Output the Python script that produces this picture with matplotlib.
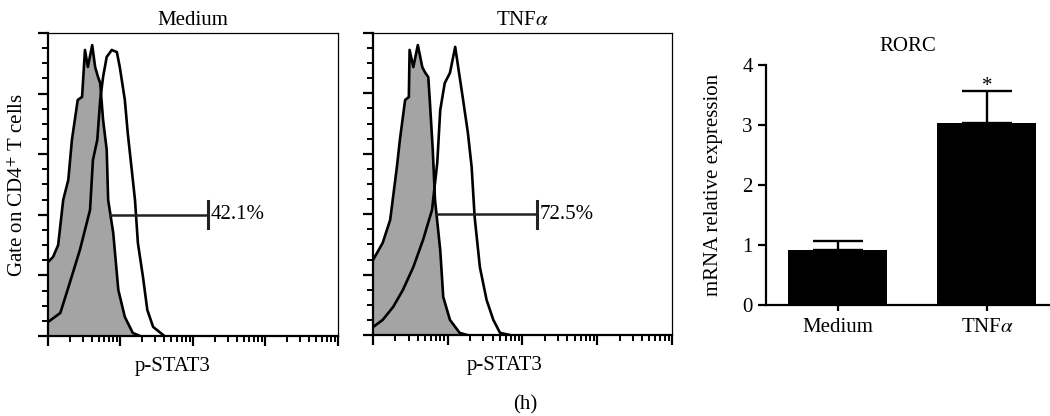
import matplotlib
matplotlib.use('Agg')
import matplotlib.pyplot as plt
from matplotlib.ticker import NullFormatter
import numpy as np

plt.rcParams['font.family'] = ['Liberation Serif', 'DejaVu Serif']
plt.rcParams['mathtext.fontset'] = 'stix'

# flow histograms: log10(p-STAT3 intensity) and % of max count
med_iso_lx = [0.0, 0.07, 0.14, 0.21, 0.28, 0.33, 0.41, 0.47, 0.51, 0.55, 0.61, 0.65, 0.69, 0.72,
              0.76, 0.81, 0.83, 0.90, 0.97, 1.06, 1.17, 1.27]
med_iso_y = [24.4, 26.1, 30.0, 44.9, 51.5, 64.7, 77.9, 78.9, 94.4, 88.8, 96.0, 88.8, 85.5, 83.5,
             71.3, 61.4, 44.9, 34.0, 15.2, 6.3, 1.0, 0.0]
med_stat_lx = [0.0, 0.17, 0.30, 0.44, 0.58, 0.62, 0.68, 0.72, 0.76, 0.81, 0.88, 0.95, 0.99, 1.06,
               1.10, 1.16, 1.20, 1.24, 1.31, 1.37, 1.45, 1.59]
med_stat_y = [4.6, 7.6, 17.5, 28.4, 41.6, 58.1, 64.7, 77.9, 85.5, 92.1, 94.4, 93.7, 88.8, 77.9,
              67.0, 53.8, 44.9, 30.7, 19.5, 8.6, 3.0, 0.3]

tnf_iso_lx = [0.0, 0.13, 0.23, 0.32, 0.36, 0.43, 0.48, 0.49, 0.54, 0.60, 0.66, 0.70, 0.74, 0.76,
              0.80, 0.83, 0.90, 0.94, 1.03, 1.16, 1.26]
tnf_iso_y = [24.8, 30.5, 38.1, 55.6, 64.6, 77.8, 78.8, 94.4, 88.7, 96.0, 88.7, 86.8, 85.4, 77.8,
             61.3, 44.7, 28.1, 12.6, 5.0, 0.7, 0.0]
tnf_stat_lx = [0.0, 0.13, 0.27, 0.40, 0.54, 0.67, 0.79, 0.86, 0.90, 0.96, 1.03, 1.10, 1.14, 1.20,
               1.27, 1.32, 1.36, 1.43, 1.52, 1.61, 1.70, 1.83]
tnf_stat_y = [2.6, 5.0, 9.3, 14.9, 22.5, 31.5, 41.4, 57.0, 74.5, 83.4, 86.8, 95.4, 88.7, 78.8,
              66.9, 55.6, 39.1, 22.5, 11.6, 5.0, 0.7, 0.0]

panel_titles = ['Medium', 'TNF$\\alpha$']
gate_pct = ['42.1%', '72.5%']
gate_lo = [7.2, 7.2]
gate_hi = [161, 156]
gate_level = 40

# qPCR bars
groups = ['Medium', 'TNF$\\alpha$']
rorc_mean = [0.92, 3.04]
rorc_err = [0.15, 0.52]

fs = 15

fig = plt.figure(figsize=(10.5, 4.16), dpi=100)
ax1 = fig.add_axes([0.0457, 0.1923, 0.2762, 0.7284])
ax2 = fig.add_axes([0.3552, 0.1947, 0.2848, 0.726])
ax3 = fig.add_axes([0.7295, 0.2668, 0.2705, 0.5769])

hists = [(med_iso_lx, med_iso_y, med_stat_lx, med_stat_y),
         (tnf_iso_lx, tnf_iso_y, tnf_stat_lx, tnf_stat_y)]
label_x = [0.43, 0.44]
major_x = [1, 10, 100, 1000, 10000]
minor_x = [k * 10 ** d for d in range(4) for k in range(2, 10)]

for i, ax in enumerate([ax1, ax2]):
    ilx, iy, slx, sy = hists[i]
    ix = 10 ** np.array(ilx)
    sx = 10 ** np.array(slx)
    ax.fill_between(ix, 0, iy, color='#a4a4a4', lw=0, zorder=1)
    ax.plot(ix, iy, color='black', lw=1.9, zorder=2)
    ax.plot(sx, sy, color='black', lw=1.9, zorder=3)
    ax.set_xscale('log')
    ax.set_xlim(1, 1e4)
    ax.set_ylim(0, 100)
    ax.set_yticks(np.arange(0, 101, 20))
    ax.set_yticks(np.arange(0, 101, 5), minor=True)
    ax.set_xticks(major_x)
    ax.set_xticks(minor_x, minor=True)
    ax.xaxis.set_minor_formatter(NullFormatter())
    ax.set_xticklabels([])
    ax.set_yticklabels([])
    ax.tick_params(which='major', direction='out', length=7.5, width=1.6)
    ax.tick_params(which='minor', direction='out', length=4, width=1.4)
    for s in ['left', 'bottom']:
        ax.spines[s].set_linewidth(1.6)
    for s in ['top', 'right']:
        ax.spines[s].set_linewidth(0.9)
    ax.set_title(panel_titles[i], fontsize=fs, pad=6)
    ax.set_xlabel('p-STAT3', fontsize=fs)
    ax.xaxis.set_label_coords(label_x[i], -0.07)
    # gate marker
    ax.plot([gate_lo[i], gate_hi[i]], [gate_level, gate_level], color='#222222', lw=1.8, zorder=4)
    ax.plot([gate_hi[i], gate_hi[i]], [gate_level - 4.5, gate_level + 4.5], color='#222222', lw=2.2, zorder=4)
    ax.text(gate_hi[i] * 1.1, gate_level, gate_pct[i], fontsize=fs, va='center', ha='left')

ax1.set_ylabel('Gate on CD4$^{+}$ T cells', fontsize=fs)
ax1.yaxis.set_label_coords(-0.068, 0.5)

xpos = np.arange(len(groups))
ax3.bar(xpos, rorc_mean, width=0.664, color='black', zorder=2)
ax3.errorbar(xpos, rorc_mean, yerr=[[0, 0], rorc_err], fmt='none', ecolor='black',
             elinewidth=1.7, capsize=18, capthick=1.7, zorder=1)
ax3.text(xpos[1], rorc_mean[1] + rorc_err[1] - 0.08, '*', ha='center', va='bottom', fontsize=fs)
ax3.set_xlim(-0.483, 1.423)
ax3.set_ylim(0, 4)
ax3.set_yticks([0, 1, 2, 3, 4])
ax3.set_xticks(xpos)
ax3.set_xticklabels(groups, fontsize=fs)
ax3.tick_params(axis='y', labelsize=fs, length=6, width=1.6)
ax3.tick_params(axis='x', length=4, width=1.6, pad=5)
ax3.spines['top'].set_visible(False)
ax3.spines['right'].set_visible(False)
ax3.spines['left'].set_linewidth(1.6)
ax3.spines['bottom'].set_linewidth(1.6)
ax3.set_title('RORC', fontsize=fs, pad=10)
ax3.set_ylabel('mRNA relative expression', fontsize=fs, labelpad=14)

fig.text(0.5, 0.027, '(h)', ha='center', va='center', fontsize=fs)

fig.savefig('out.png', dpi=100)
